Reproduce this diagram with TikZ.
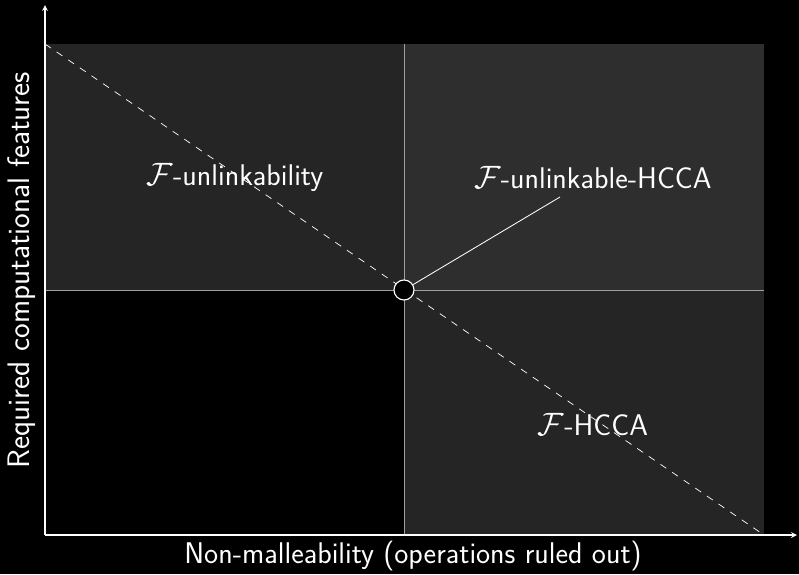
\documentclass[tikz,border=0pt]{standalone}
\usepackage{amsmath}
\usepackage{amssymb}
\usepackage{xcolor}
\usetikzlibrary{positioning}

\definecolor{regiondark}{HTML}{252525}
\definecolor{regionlight}{HTML}{2E2E2E}
\definecolor{quadline}{HTML}{A0A0A0}

\tikzset{
  axis/.style={draw=white, line width=0.9pt, ->, >=stealth},
  quad/.style={draw=quadline, line width=0.6pt},
  diag/.style={draw=white, line width=0.5pt, dash pattern=on 5pt off 5pt},
  lbl/.style={text=white, inner sep=1pt, scale=1.33},
}

\begin{document}
\begin{tikzpicture}[x=0.025cm, y=-0.025cm, font=\sffamily\fontsize{16}{19}\selectfont]
        \fill[black] (0,0) rectangle (799,574);
        \useasboundingbox (0,0) rectangle (799,574);

        % regions
        \fill[regiondark]  (45,44)  rectangle (404,290);
        \fill[regionlight] (404,44) rectangle (764,290);
        \fill[regiondark]  (404,290) rectangle (764,535);

        \coordinate (O)   at (45,535);
        \coordinate (ytip) at (45,5);
        \coordinate (xtip) at (797,535);
        \coordinate (tl)  at (45,44);
        \coordinate (br)  at (764,535);
        \coordinate (lft) at (45,290);
        \coordinate (rgt) at (764,290);
        \coordinate (top) at (404,44);
        \coordinate (bot) at (404,535);

        \draw[quad] (lft) -- (rgt);
        \draw[quad] (top) -- (bot);
        \draw[diag] (tl) -- (br);

        \draw[axis] (O) -- (ytip);
        \draw[axis] (O) -- (xtip);

        \node (unl)  [lbl] at (235,177) {$\mathcal{F}$-unlinkability};
        \node (uhcca)[lbl] at (593,178) {$\mathcal{F}$-unlinkable-HCCA};
        \node (hcca) [lbl] at (593,425) {$\mathcal{F}$-HCCA};
        \coordinate (lead) at (560,197);

        \node (c) [circle, draw=white, fill=black, line width=0.8pt, minimum size=0.5cm, inner sep=0pt] at (404,290) {};
        \draw[white, line width=0.6pt] (c) -- (lead);

        \node (xl) [lbl] at (413,556) {Non-malleability (operations ruled out)};
        \node (yl) [lbl, scale=1.04, rotate=90] at (22,270) {Required computational features};
    \end{tikzpicture}
\end{document}
